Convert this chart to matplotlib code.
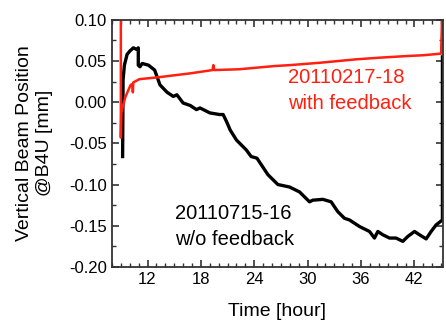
import matplotlib
matplotlib.use('Agg')
import matplotlib.pyplot as plt
from matplotlib.ticker import MultipleLocator, FormatStrFormatter

plt.rcParams['font.family'] = ['Liberation Sans', 'DejaVu Sans']
plt.rcParams['axes.unicode_minus'] = False

# 20110715-16, w/o feedback (black)
t_nofb = [9.2, 9.25, 9.4, 9.7, 10.0, 10.4, 10.8, 10.96, 10.96, 11.15, 11.4, 12.1, 12.8,
          13.4, 14.2, 14.9, 15.3, 16.0, 16.8, 17.5, 17.9, 19.0, 20.1, 20.5, 20.9, 21.3,
          22.0, 23.1, 23.65, 24.3, 25.53, 26.65, 27.96, 29.09, 30.21, 30.58, 31.71, 32.64,
          33.39, 34.14, 34.70, 35.83, 36.95, 37.51, 37.89, 38.45, 39.20, 39.94, 40.70,
          41.26, 42.01, 42.57, 43.32, 43.88, 44.44, 45.15, 45.15]
v_nofb = [-0.066, 0.027, 0.045, 0.058, 0.062, 0.066, 0.064, 0.066, 0.045, 0.043, 0.047, 0.045, 0.039,
          0.021, 0.012, 0.007, 0.009, -0.001, -0.004, -0.009, -0.007, -0.013, -0.015, -0.015, -0.024, -0.034,
          -0.046, -0.058, -0.066, -0.068, -0.088, -0.100, -0.103, -0.109, -0.121, -0.119, -0.118, -0.121,
          -0.133, -0.141, -0.143, -0.151, -0.157, -0.165, -0.157, -0.161, -0.165, -0.165, -0.169,
          -0.163, -0.157, -0.161, -0.166, -0.157, -0.149, -0.143, 0.055]

# 20110217-18, with feedback (red)
t_fb = [9.0, 9.0, 9.05, 9.5, 10.1, 10.3, 10.35, 10.4, 11.1, 13.0, 16.8, 19.3, 19.4, 19.5,
        22.3, 26.4, 28.0, 31.5, 35.4, 38.0, 41.1, 43.0, 45.0, 45.1]
v_fb = [0.10, -0.043, -0.013, 0.006, 0.021, 0.022, 0.012, 0.024, 0.028, 0.030, 0.035, 0.039, 0.045, 0.039,
        0.040, 0.044, 0.045, 0.048, 0.052, 0.054, 0.056, 0.057, 0.059, 0.10]

x_ticks = [12, 18, 24, 30, 36, 42]
y_ticks = [0.10, 0.05, 0.00, -0.05, -0.10, -0.15, -0.20]

fig = plt.figure(figsize=(4.46, 3.2), dpi=100)
ax = fig.add_axes([0.251, 0.166, 0.742, 0.772])

ax.plot(t_nofb, v_nofb, color='black', lw=2.4)
ax.plot(t_fb, v_fb, color='#ff2010', lw=1.8)

ax.set_xlim(8, 45.2)
ax.set_ylim(-0.20, 0.10)
ax.set_xticks(x_ticks)
ax.set_yticks(y_ticks)
ax.xaxis.set_minor_locator(MultipleLocator(1))
ax.yaxis.set_minor_locator(MultipleLocator(0.025))
ax.yaxis.set_major_formatter(FormatStrFormatter('%.2f'))
ax.tick_params(which='both', direction='in', top=True, right=True, labelsize=12, color='#333333')
ax.tick_params(which='major', length=5, width=1.2)
ax.tick_params(which='minor', length=3, width=1.0)
for s in ax.spines.values():
    s.set_color('#333333')
    s.set_linewidth(1.3)

ax.set_xlabel('Time [hour]', fontsize=14, labelpad=12)
ax.set_ylabel('Vertical Beam Position\n@B4U [mm]', fontsize=14, labelpad=12)

ax.text(27.8, 0.041, '20110217-18\nwith feedback', color='#ff2010', fontsize=14.5,
        va='top', ha='left', linespacing=1.45)
ax.text(15.1, -0.124, '20110715-16\nw/o feedback', color='black', fontsize=14.5,
        va='top', ha='left', linespacing=1.45)

fig.savefig('out.png', dpi=100)
